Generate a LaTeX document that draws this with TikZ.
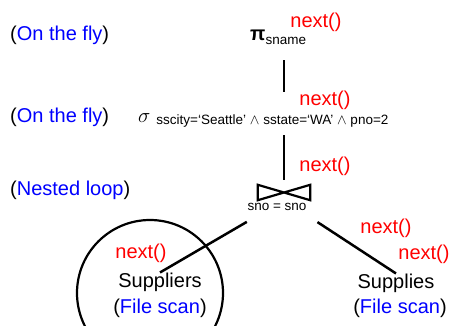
\documentclass[tikz,border=0pt]{standalone}
\usepackage{fontspec}
\setmainfont{Liberation Sans}
\usetikzlibrary{positioning}
\tikzset{
  op/.style={inner sep=0pt,font=\fontsize{20}{24}\selectfont},
  sm/.style={inner sep=0pt,font=\fontsize{13.5}{16}\selectfont},
  nxt/.style={op,text=red},
  how/.style={op,anchor=west},
  edge/.style={line width=2.5pt},
}
\newcommand{\access}[1]{(\textcolor{blue}{#1})}

\begin{document}
\begin{tikzpicture}[x=1pt,y=-1pt]
  \useasboundingbox (0,0) rectangle (452,325);
  \clip (0,0) rectangle (452,325);
  % how each operator runs
  \node[how] (m1) at (10,35) {\access{On the fly}};
  \node[how] (m2) at (10,117) {\access{On the fly}};
  \node[how] (m3) at (10,190) {\access{Nested loop}};
  % plan tree
  \node[op,anchor=base west] (pi) at (250,40) {{\bfseries π}\raisebox{-4pt}{\fontsize{13.5}{16}\selectfont sname}};
  \node[op,anchor=base west] (sigma) at (138,122) {$\sigma$\hspace{6pt}\raisebox{-2pt}{\fontsize{13.5}{16}\selectfont sscity=‘Seattle’ $\wedge$ sstate=‘WA’ $\wedge$ pno=2}};
  \node[minimum width=52pt,minimum height=15pt,inner sep=0pt] (join) at (284,192.5) {};
  \draw[line width=2.2pt] (join.north west) -- (join.south east) -- (join.north east) -- (join.south west) -- cycle;
  \node[sm] (cond) at (277,207) {sno = sno};
  \node[circle,draw,line width=2.2pt,minimum size=146pt] (ring) at (150,293) {};
  \node[op] (supp) at (160,282) {Suppliers};
  \node[op,below=7pt of supp] (scanL) {\access{File scan}};
  \node[op] (supl) at (396,283) {Supplies};
  \node[op,below=6pt of supl,xshift=4pt] (scanR) {\access{File scan}};
  % iterator calls
  \node[nxt] (n1) at (316,22) {next()};
  \node[nxt] (n2) at (325,100) {next()};
  \node[nxt] (n3) at (325,166) {next()};
  \node[nxt] (nL) at (141,253) {next()};
  \node[nxt] (nR1) at (386,228) {next()};
  \node[nxt] (nR2) at (424,254) {next()};
  \draw[edge,shorten <=16pt,shorten >=21pt,xshift=2pt] (pi.south -| join) -- (sigma.north -| join);
  \draw[edge,shorten <=8pt,shorten >=5pt] (sigma.south -| join) -- (join.north);
  \draw[edge,shorten <=43pt] (join.south) -- (supp.north);
  \draw[edge,shorten <=40pt] (join.south) -- (supl.north);
\end{tikzpicture}
\end{document}
